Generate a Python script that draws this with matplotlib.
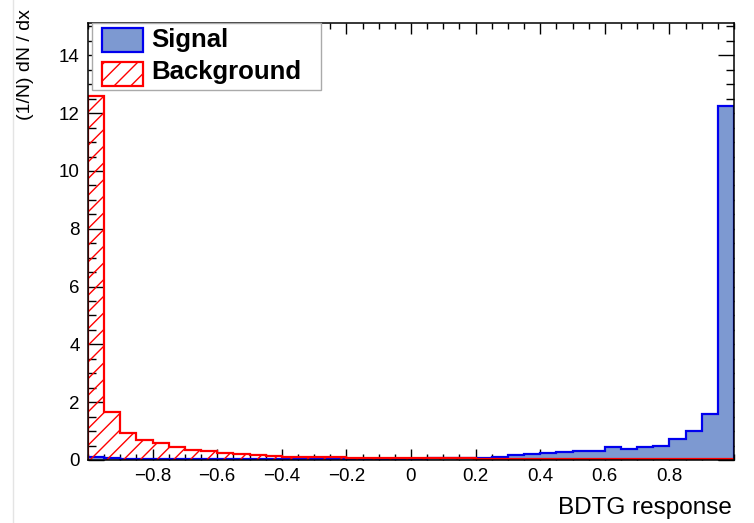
import matplotlib.pyplot as plt
import numpy as np
from matplotlib.ticker import MultipleLocator, FixedLocator
from matplotlib.lines import Line2D
from matplotlib.patches import Rectangle

# Histogrammdaten: 40 Bins von -1 bis 1
edges = np.linspace(-1, 1, 41)
signal = [0.10, 0.06, 0.05, 0.05, 0.04, 0.04, 0.04, 0.04, 0.04, 0.04,
          0.04, 0.04, 0.04, 0.04, 0.04, 0.05, 0.05, 0.05, 0.05, 0.05,
          0.05, 0.06, 0.06, 0.07, 0.08, 0.10, 0.17, 0.22, 0.25, 0.29,
          0.30, 0.32, 0.44, 0.37, 0.44, 0.49, 0.73, 1.02, 1.59, 12.25]
background = [12.60, 1.65, 0.95, 0.70, 0.58, 0.45, 0.36, 0.30, 0.24, 0.20,
              0.16, 0.14, 0.12, 0.11, 0.10, 0.09, 0.08, 0.08, 0.07, 0.07,
              0.07, 0.06, 0.06, 0.06, 0.05, 0.05, 0.05, 0.05, 0.05, 0.05,
              0.05, 0.05, 0.05, 0.05, 0.05, 0.04, 0.04, 0.04, 0.04, 0.04]
xticks = [-0.8, -0.6, -0.4, -0.2, 0, 0.2, 0.4, 0.6, 0.8]
xticklabels = ["\u22120.8", "\u22120.6", "\u22120.4", "\u22120.2", "0", "0.2", "0.4", "0.6", "0.8"]

plt.rcParams["font.family"] = ["Liberation Sans", "DejaVu Sans"]
plt.rcParams["hatch.linewidth"] = 1.0

W, H = 754, 523
fig = plt.figure(figsize=(W / 100, H / 100), dpi=100)
ax = fig.add_axes([88 / W, 1 - 460 / H, 646 / W, 437 / H])

sig_style = dict(facecolor="#7d99d1", edgecolor="#0000ee", linewidth=1.6)
bkg_style = dict(facecolor="none", edgecolor="#ff0000", hatch="//", linewidth=1.6)

ax.stairs(signal, edges, fill=True, zorder=2, **sig_style)
ax.stairs(background, edges, fill=True, zorder=3, **bkg_style)

ax.set_xlim(-1, 1)
ax.set_ylim(0, 15.12)
ax.xaxis.set_major_locator(FixedLocator(xticks))
ax.set_xticklabels(xticklabels)
ax.xaxis.set_minor_locator(MultipleLocator(0.05))
ax.yaxis.set_major_locator(MultipleLocator(2))
ax.yaxis.set_minor_locator(MultipleLocator(0.5))

ax.tick_params(axis="both", which="both", direction="in", top=True, right=True,
               labelsize=13.5, width=1.0, color="black", zorder=5)
ax.tick_params(axis="x", which="major", length=8, pad=6)
ax.tick_params(axis="x", which="minor", length=4)
ax.tick_params(axis="y", which="major", length=11.5, pad=6)
ax.tick_params(axis="y", which="minor", length=5.8)
for s in ax.spines.values():
    s.set_linewidth(1.1)
    s.set_zorder(6)

fig.text(732 / W, 1 - 508 / H, "BDTG response", ha="right", va="center", fontsize=17.5)
fig.text(25 / W, 1 - 9 / H, "(1/N) dN / dx", rotation=90, ha="center", va="top", fontsize=14)


# Legende wie im ROOT-Plot (Pixelkoordinaten von oben links)
def fig_rect(x0, y0, x1, y1, **kw):
    r = Rectangle((x0 / W, 1 - y1 / H), (x1 - x0) / W, (y1 - y0) / H,
                  transform=fig.transFigure, **kw)
    fig.add_artist(r)
    return r


fig_rect(92, 23, 321, 90, facecolor="white", edgecolor="#aaaaaa", linewidth=1.0, zorder=10)
fig_rect(102, 28, 143, 52, zorder=11, **sig_style)
fig_rect(102, 62, 143, 86, zorder=11, **bkg_style)
fig.text(151 / W, 1 - 47.5 / H, "Signal", fontsize=18.5, fontweight="bold",
         va="baseline", zorder=12)
fig.text(151 / W, 1 - 78.5 / H, "Background", fontsize=18.5, fontweight="bold",
         va="baseline", zorder=12)

# heller Rand links im Screenshot
fig.add_artist(Line2D([13 / W, 13 / W], [0, 1], transform=fig.transFigure,
                      color="#e4e4e4", linewidth=1))

plt.savefig("out.png", dpi=100)
